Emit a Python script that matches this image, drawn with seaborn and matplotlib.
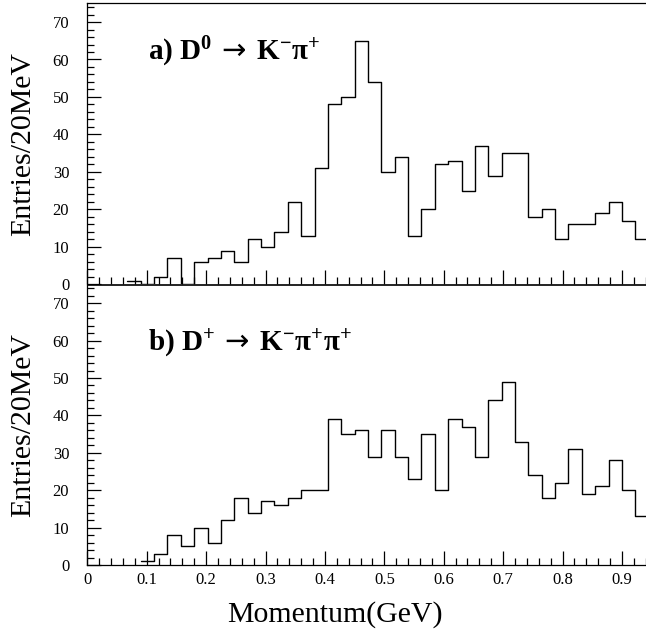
import numpy as np
import pandas as pd
import seaborn as sns
import matplotlib.pyplot as plt
from matplotlib.ticker import MultipleLocator

# datos (ancho de bin 0.0225 en la escala del eje)
bin_width = 0.0225
d0_start = 0.0675
d0_counts = [1, 0, 2, 7, 0, 6, 7, 9, 6, 12, 10, 14, 22, 13, 31, 48, 50, 65, 54, 30,
             34, 13, 20, 32, 33, 25, 37, 29, 35, 35, 18, 20, 12, 16, 16, 19, 22, 17, 12]
dp_start = 0.09
dp_counts = [1, 3, 8, 5, 10, 6, 12, 18, 14, 17, 16, 18, 20, 20, 39, 35, 36, 29, 36, 29,
             23, 35, 20, 39, 37, 29, 44, 49, 33, 24, 18, 22, 31, 19, 21, 28, 20, 13]

titles = [r"a) $\mathbf{D^{0}}\;\mathsf{\rightarrow}\;\mathbf{K^{-}\pi^{+}}$",
          r"b) $\mathbf{D^{+}}\;\mathsf{\rightarrow}\;\mathbf{K^{-}\pi^{+}\pi^{+}}$"]

sns.set_style("ticks")
plt.rcParams['font.family'] = ['Liberation Serif', 'DejaVu Serif']
plt.rcParams['mathtext.fontset'] = 'custom'
plt.rcParams['mathtext.rm'] = 'Liberation Serif'
plt.rcParams['mathtext.bf'] = 'Liberation Serif:bold'
plt.rcParams['mathtext.it'] = 'Liberation Serif:italic'
plt.rcParams['mathtext.sf'] = 'DejaVu Sans'
plt.rcParams['text.color'] = 'black'
plt.rcParams['axes.labelcolor'] = 'black'

W, H = 646, 633
fig = plt.figure(figsize=(W / 100, H / 100), dpi=100)
left = 87.3 / W
width = 558.4 / W
ax1 = fig.add_axes([left, (H - 284.3) / H, width, 281.0 / H])
ax2 = fig.add_axes([left, (H - 565.0) / H, width, 280.5 / H])

def histograma(ax, start, counts, titulo, baseline_y):
    nb = len(counts)
    centros = start + bin_width * (np.arange(nb) + 0.5)
    df = pd.DataFrame({"p": centros, "n": counts})
    sns.histplot(data=df, x="p", weights="n", bins=nb,
                 binrange=(start, start + nb * bin_width), element="step", fill=False,
                 color="black", linewidth=1.0, ax=ax)
    ax.set_xlim(0, 0.94)
    ax.set_ylim(0, 75)
    ax.xaxis.set_major_locator(MultipleLocator(0.1))
    ax.xaxis.set_minor_locator(MultipleLocator(0.02))
    ax.yaxis.set_major_locator(MultipleLocator(10))
    ax.yaxis.set_minor_locator(MultipleLocator(2))
    ax.tick_params(which='both', direction='in', top=False, right=False, width=0.9,
                   color='black', labelcolor='black')
    ax.tick_params(which='major', length=10)
    ax.tick_params(which='minor', length=5)
    ax.tick_params(axis='y', labelsize=12, pad=13)
    ax.tick_params(axis='x', labelsize=12, pad=5)
    for s in ax.spines.values():
        s.set_linewidth(0.9)
        s.set_color('black')
    ax.spines['right'].set_visible(False)
    ax.set_ylabel("Entries/20MeV", fontsize=21.5, va='center')
    ax.yaxis.set_label_coords(-0.115, 0.5)
    ax.text(0.1087, baseline_y, titulo, transform=ax.transAxes, ha='left', va='baseline',
            fontsize=21, fontweight='bold')

histograma(ax1, d0_start, d0_counts, titles[0], 0.798)
histograma(ax2, dp_start, dp_counts, titles[1], 0.766)

ax1.set_xlabel("")
ax1.tick_params(axis='x', labelbottom=False)
ax1.spines['bottom'].set_linewidth(0.6)
ax2.spines['top'].set_linewidth(0.6)
ax2.set_xticks(np.arange(0, 1.0, 0.1))
ax2.set_xticklabels(["0", "0.1", "0.2", "0.3", "0.4", "0.5", "0.6", "0.7", "0.8", "0.9"])
ax2.set_xlim(0, 0.94)
ax2.set_xlabel("Momentum(GeV)", fontsize=21.5, va='baseline')
ax2.xaxis.set_label_coords(0.4436, -0.203)

fig.savefig("out.png", dpi=100)
